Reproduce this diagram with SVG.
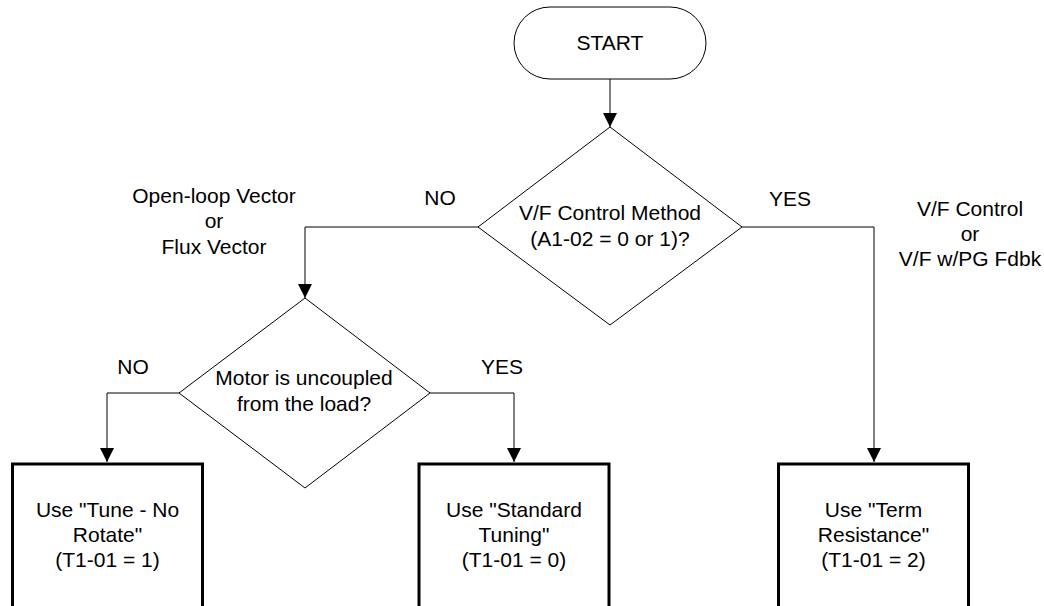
<svg xmlns="http://www.w3.org/2000/svg" width="1044" height="606" viewBox="0 0 1044 606">
<style>
text{font-family:"Liberation Sans",Arial,sans-serif;font-size:21px;fill:#000;text-anchor:middle}
.shape{fill:#fff;stroke:#000;stroke-width:1}
.box{fill:#fff;stroke:#000;stroke-width:3}
.conn{fill:none;stroke:#000;stroke-width:1}
</style>
<defs>
<marker id="arrow" markerUnits="userSpaceOnUse" markerWidth="14" markerHeight="14" refX="14" refY="7" orient="auto">
<path d="M0,0 L14,7 L0,14 Z" fill="#000"/>
</marker>
</defs>
<rect width="1044" height="606" fill="#fff"/>
<g id="connectors">
<path class="conn" d="M610,79 V127" marker-end="url(#arrow)"/>
<path class="conn" d="M479,227 H305 V298" marker-end="url(#arrow)"/>
<path class="conn" d="M742,227 H874 V462" marker-end="url(#arrow)"/>
<path class="conn" d="M179,393 H107 V462" marker-end="url(#arrow)"/>
<path class="conn" d="M430,393 H514 V462" marker-end="url(#arrow)"/>
</g>
<g id="start">
<rect class="shape" x="514" y="7" width="192" height="72" rx="36" ry="36"/>
<text x="610" y="50">START</text>
</g>
<g id="decision1">
<polygon class="shape" points="610,127 742,227 610,325 478,227"/>
<text x="610" y="220">V/F Control Method</text>
<text x="610" y="246">(A1-02 = 0 or 1)?</text>
</g>
<g id="decision2">
<polygon class="shape" points="305,298 430,393 305,488 179,393"/>
<text x="304" y="385">Motor is uncoupled</text>
<text x="304" y="411">from the load?</text>
</g>
<g id="box-norotate">
<rect class="box" x="12.5" y="464" width="190" height="200"/>
<text x="107.5" y="517">Use "Tune - No</text>
<text x="107.5" y="542">Rotate"</text>
<text x="107.5" y="567">(T1-01 = 1)</text>
</g>
<g id="box-standard">
<rect class="box" x="419" y="464" width="190" height="200"/>
<text x="514" y="517">Use "Standard</text>
<text x="514" y="542">Tuning"</text>
<text x="514" y="567">(T1-01 = 0)</text>
</g>
<g id="box-term">
<rect class="box" x="778.5" y="464" width="190" height="200"/>
<text x="873.5" y="517">Use "Term</text>
<text x="873.5" y="542">Resistance"</text>
<text x="873.5" y="567">(T1-01 = 2)</text>
</g>
<g id="labels">
<text x="440" y="205">NO</text>
<text x="790" y="206">YES</text>
<text x="133" y="374">NO</text>
<text x="502" y="374">YES</text>
<text x="214" y="203">Open-loop Vector</text>
<text x="214" y="228">or</text>
<text x="214" y="254">Flux Vector</text>
<text x="970" y="216">V/F Control</text>
<text x="970" y="241">or</text>
<text x="970" y="266">V/F w/PG Fdbk</text>
</g>
</svg>
